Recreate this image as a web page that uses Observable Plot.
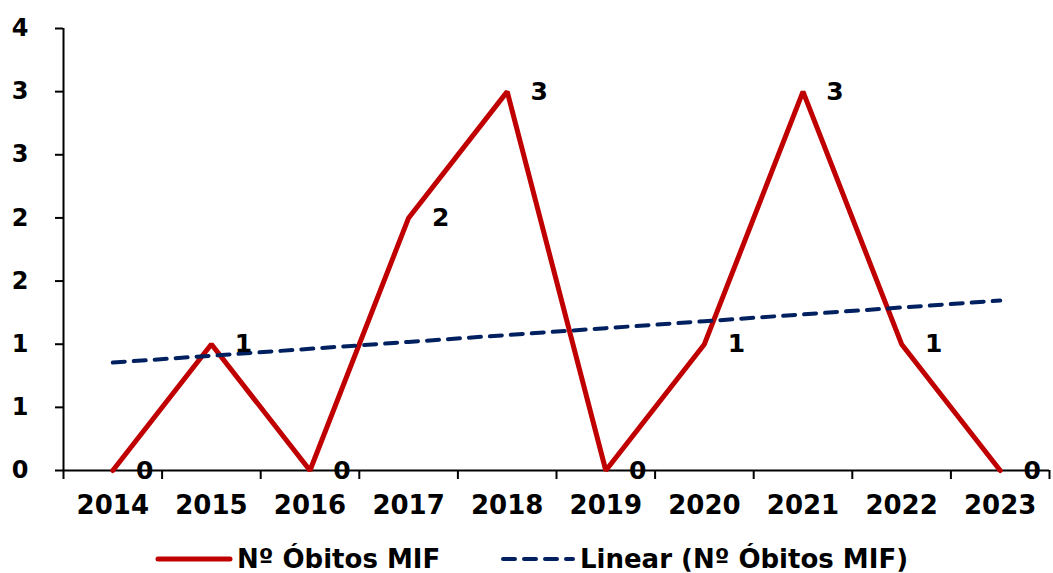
<!DOCTYPE html>
<html>
<head>
<meta charset="utf-8">
<script src="https://cdn.jsdelivr.net/npm/d3@7"></script>
<script src="https://cdn.jsdelivr.net/npm/@observablehq/plot@0.6"></script>
<style>
  body { margin: 0; background: #fff; font-family: "DejaVu Sans", Verdana, sans-serif; }
  #wrap { position: relative; width: 1053px; height: 573px; overflow: hidden; }
  .leg { position: absolute; top: 545px; height: 28px; line-height: 28px; display: flex; align-items: center; font-weight: bold; font-size: 26px; color: #000; white-space: nowrap; }
</style>
</head>
<body>
<div id="wrap"></div>
<script>
const years = [2014, 2015, 2016, 2017, 2018, 2019, 2020, 2021, 2022, 2023];
const obitos = [0, 1, 0, 2, 3, 0, 1, 3, 1, 0];
const yTickValues = [0, 0.5, 1, 1.5, 2, 2.5, 3, 3.5];
const yTickLabels = ["0", "1", "1", "2", "2", "3", "3", "4"];
const seriesName = "Nº Óbitos MIF";
const trendName = "Linear (Nº Óbitos MIF)";
const red = "#C00000";
const navy = "#002060";

const data = years.map((y, i) => ({year: y, value: obitos[i]}));

// least squares trend
const mx = d3.mean(years), my = d3.mean(obitos);
const sxy = d3.sum(years, (x, i) => (x - mx) * (obitos[i] - my));
const sxx = d3.sum(years, x => (x - mx) ** 2);
const slope = sxy / sxx, intercept = my - slope * mx;
const trend = years.map(x => ({year: x, value: intercept + slope * x}));

const bounds = [years[0] - 0.5, ...years.map(y => y + 0.5)];
const font = "DejaVu Sans, Verdana, sans-serif";

const chart = Plot.plot({
  width: 1053,
  height: 525,
  marginLeft: 63,
  marginRight: 4,
  marginTop: 28,
  marginBottom: 55,
  style: {fontFamily: font, fontWeight: "bold", background: "#fff", color: "#000", overflow: "visible"},
  x: {type: "linear", domain: [years[0] - 0.5, years[years.length - 1] + 0.5]},
  y: {domain: [0, 3.5]},
  marks: [
    Plot.axisY({ticks: yTickValues, tickFormat: (d, i) => yTickLabels[i], tickSize: 8, tickPadding: 27, fontSize: 24, fontWeight: "bold", label: null, stroke: "#000", strokeWidth: 2, strokeOpacity: 1}),
    Plot.axisX({ticks: bounds, tickFormat: () => "", tickSize: 9, label: null, stroke: "#000", strokeWidth: 2, strokeOpacity: 1}),
    Plot.axisX({ticks: years, tickFormat: d => String(d), tickSize: 0, tickPadding: 25, fontSize: 26, fontWeight: "bold", label: null}),
    Plot.ruleX([years[0] - 0.5], {y1: 0, y2: 3.5, stroke: "#000", strokeWidth: 2}),
    Plot.ruleY([0], {stroke: "#000", strokeWidth: 2}),
    Plot.line(data, {x: "year", y: "value", stroke: red, strokeWidth: 5, strokeLinejoin: "miter", strokeLinecap: "round"}),
    Plot.line(trend, {x: "year", y: "value", stroke: navy, strokeWidth: 4, strokeDasharray: "12,9", strokeLinecap: "round"}),
    Plot.text(data, {x: "year", y: "value", text: d => String(d.value), dx: 32, fontSize: 25, fontWeight: "bold", fill: "#000", textAnchor: "middle", lineAnchor: "middle"})
  ]
});

const wrap = document.getElementById("wrap");
wrap.appendChild(chart);

function legendItem(left, sampleWidth, color, dash, label) {
  const div = document.createElement("div");
  div.className = "leg";
  div.style.left = left + "px";
  const svg = d3.create("svg").attr("width", sampleWidth + 6).attr("height", 12);
  svg.append("line").attr("x1", 3).attr("x2", sampleWidth + 3).attr("y1", 6).attr("y2", 6)
    .attr("stroke", color).attr("stroke-width", dash ? 4 : 5).attr("stroke-linecap", "round")
    .attr("stroke-dasharray", dash || null);
  div.appendChild(svg.node());
  const span = document.createElement("span");
  span.textContent = label;
  span.style.marginLeft = "4px";
  div.appendChild(span);
  wrap.appendChild(div);
}
legendItem(155, 72, red, null, seriesName);
legendItem(500, 70, navy, "12,9", trendName);
</script>
</body>
</html>
